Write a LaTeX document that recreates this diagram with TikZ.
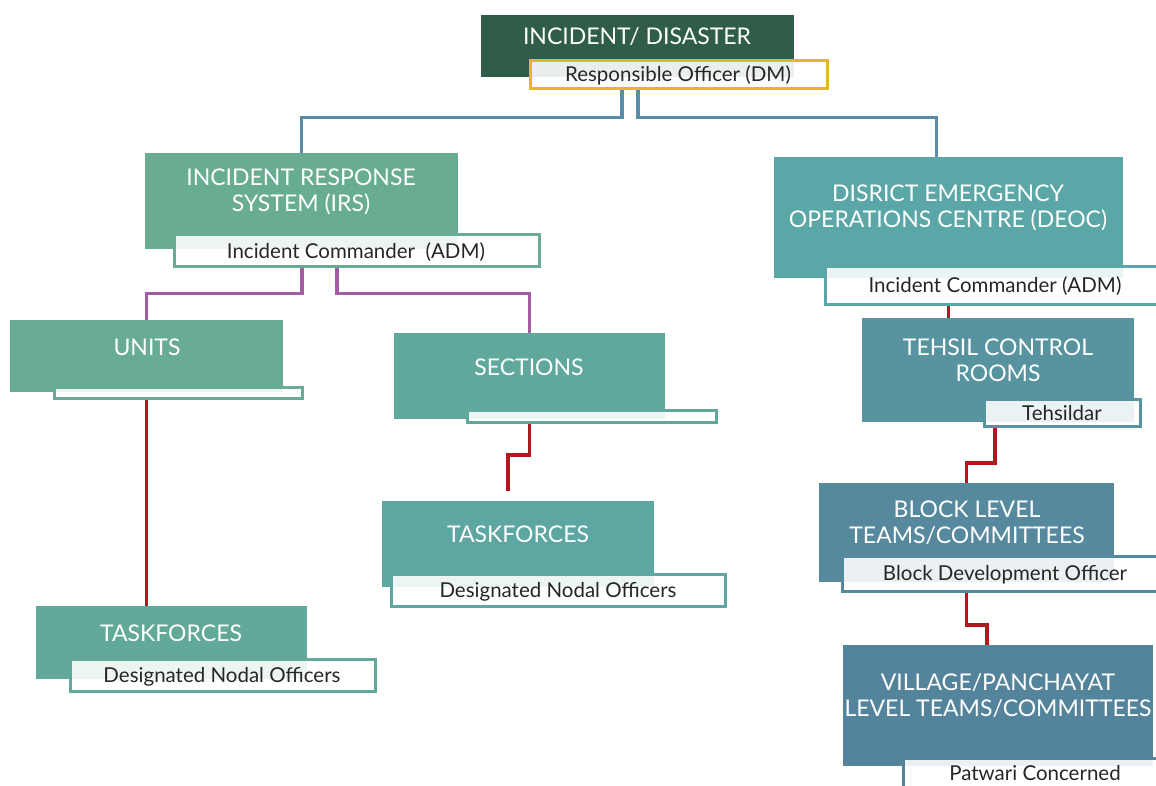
\documentclass[tikz,border=0pt]{standalone}
\usepackage{fontspec}
\setmainfont{Lato}
\usetikzlibrary{calc}
\pgfdeclarelayer{bg}
\pgfsetlayers{bg,main}
\definecolor{topc}{HTML}{2F5D49}
\definecolor{irsc}{HTML}{68AC91}
\definecolor{unitc}{HTML}{68AC93}
\definecolor{secc}{HTML}{60A89C}
\definecolor{tflc}{HTML}{62A99A}
\definecolor{tfrc}{HTML}{5DA6A1}
\definecolor{deocc}{HTML}{5BA6A6}
\definecolor{tehc}{HTML}{5794A0}
\definecolor{blockc}{HTML}{56899E}
\definecolor{vilc}{HTML}{54849B}
\definecolor{yelc}{HTML}{E5B62A}
\definecolor{bluel}{HTML}{5A8DA5}
\definecolor{purl}{HTML}{A35EA3}
\definecolor{redl}{HTML}{B3161C}
\begin{document}
\begin{tikzpicture}[x=1pt,y=-1pt,
  box/.style={anchor=north west,inner sep=0,outer sep=0,draw=none},
  subbox/.style={anchor=north west,inner sep=0,outer sep=0,line width=3pt,fill=white},
  btxt/.style={text=white,font=\fontsize{23}{26}\selectfont,align=center,inner sep=0},
  stxt/.style={text=black!85,font=\fontsize{20.5}{23}\selectfont,inner sep=0},
  bconn/.style={draw=bluel,line width=3.2pt},
  pconn/.style={draw=purl,line width=3.2pt},
  rconn/.style={draw=redl,line width=3.5pt}]
\useasboundingbox (0,0) rectangle (1156,785);

% ---- top
\node[box,fill=topc,minimum width=313pt,minimum height=62pt] (top) at (481,15) {};
\node[subbox,draw=yelc,minimum width=297pt,minimum height=28pt] (topS) at (530.5,60.5) {};
\fill[topc!10] (532,62) rectangle (794,77);
\node[btxt] (topT) at (637,37) {INCIDENT/ DISASTER};
\node[stxt] (topST) at (678,75) {Responsible Officer (DM)};

% ---- IRS
\node[box,fill=irsc,minimum width=313pt,minimum height=96pt] (irs) at (145,153) {};
\node[subbox,draw=irsc,minimum width=365pt,minimum height=32pt] (irsS) at (174.5,234.5) {};
\fill[irsc!12] (176,236) rectangle (458,249);
\node[btxt] (irsT) at (301,192) {INCIDENT RESPONSE\\SYSTEM (IRS)};
\node[stxt] (irsST) at (356,252) {Incident Commander\ \ (ADM)};

% ---- UNITS
\node[box,fill=unitc,minimum width=273pt,minimum height=72pt] (units) at (10,320) {};
\node[subbox,draw=unitc,minimum width=248pt,minimum height=11pt] (unitsS) at (54.5,387.5) {};
\fill[unitc!12] (56,389) rectangle (283,392);
\node[btxt] (unitsT) at (147,347) {UNITS};

% ---- SECTIONS
\node[box,fill=secc,minimum width=271pt,minimum height=86pt] (sections) at (394,333) {};
\node[subbox,draw=secc,minimum width=249pt,minimum height=12pt] (sectionsS) at (467.5,410.5) {};
\fill[secc!12] (469,412) rectangle (665,419);
\node[btxt] (sectionsT) at (529,367) {SECTIONS};

% ---- TASKFORCES left
\node[box,fill=tflc,minimum width=271pt,minimum height=73pt] (tfl) at (36,606) {};
\node[subbox,draw=tflc,minimum width=305pt,minimum height=32pt] (tflS) at (70.5,659.5) {};
\fill[tflc!12] (72,661) rectangle (307,679);
\node[btxt] (tflT) at (171,633) {TASKFORCES};
\node[stxt] (tflST) at (222,677) {Designated Nodal Officers};

% ---- TASKFORCES right
\node[box,fill=tfrc,minimum width=272pt,minimum height=86pt] (tfr) at (382,501) {};
\node[subbox,draw=tfrc,minimum width=334pt,minimum height=32pt] (tfrS) at (391.5,574.5) {};
\fill[tfrc!12] (393,576) rectangle (654,587);
\node[btxt] (tfrT) at (518,534) {TASKFORCES};
\node[stxt] (tfrST) at (558,592) {Designated Nodal Officers};

% ---- DEOC
\node[box,fill=deocc,minimum width=349pt,minimum height=121pt] (deoc) at (774,157) {};
\node[subbox,draw=deocc,minimum width=342.5pt,minimum height=38pt] (deocS) at (825.5,266.5) {};
\fill[deocc!12] (827,268) rectangle (1123,278);
\node[btxt] (deocT) at (948,207.5) {DISRICT EMERGENCY\\OPERATIONS CENTRE (DEOC)};
\node[stxt] (deocST) at (995,286) {Incident Commander (ADM)};

% ---- TEHSIL
\node[box,fill=tehc,minimum width=272pt,minimum height=104pt] (tehsil) at (862,318) {};
\node[subbox,draw=tehc,minimum width=156pt,minimum height=27pt] (tehsilS) at (984.5,399.5) {};
\fill[tehc!12] (986,401) rectangle (1134,422);
\node[btxt] (tehsilT) at (998,360) {TEHSIL CONTROL\\ROOMS};
\node[stxt] (tehsilST) at (1062,413) {Tehsildar};

% ---- BLOCK
\node[box,fill=blockc,minimum width=295pt,minimum height=99pt] (block) at (819,483) {};
\node[subbox,draw=blockc,minimum width=325.5pt,minimum height=35pt] (blockS) at (842.5,556.5) {};
\fill[blockc!12] (844,558) rectangle (1114,582);
\node[btxt] (blockT) at (967,522.5) {BLOCK LEVEL\\TEAMS/COMMITTEES};
\node[stxt] (blockST) at (1005,575) {Block Development Officer};

% ---- VILLAGE
\node[box,fill=vilc,minimum width=310pt,minimum height=121pt] (village) at (843,645) {};
\node[subbox,draw=vilc,minimum width=264.5pt,minimum height=41.5pt] (villageS) at (903.5,758.5) {};
\fill[vilc!12] (905,760) rectangle (1153,766);
\node[btxt] (villageT) at (998,695.5) {VILLAGE/PANCHAYAT\\LEVEL TEAMS/COMMITTEES};
\node[stxt] (villageST) at (1035,773) {Patwari Concerned};

% ---- connectors
\coordinate (secEnd) at (508,491);
\begin{pgfonlayer}{bg}
\draw[bconn] ([xshift=-57pt]topS.south) -- ++(0,29) -| (irs.north);
\draw[bconn] ([xshift=-41pt]topS.south) -- ++(0,29) -| ([xshift=-12pt]deoc.north);
\draw[pconn] ([xshift=-55pt]irsS.south) -- ++(0,27) -| (units.north);
\draw[pconn] ([xshift=-20pt]irsS.south) -- ++(0,27) -| (sections.north);
\draw[rconn] (units.south) -- (units.south |- tfl.north);
\draw[rconn] (sections.south) -- ++(0,36) -| (secEnd);
\draw[rconn] (deoc.south) -- (deoc.south |- tehsil.north);
\draw[rconn] ([xshift=-3pt]tehsil.south) -- ++(0,41) -| (block.north);
\draw[rconn] (block.south) -- ++(0,43) -| ([xshift=-11pt]village.north);
\end{pgfonlayer}
\end{tikzpicture}
\end{document}
